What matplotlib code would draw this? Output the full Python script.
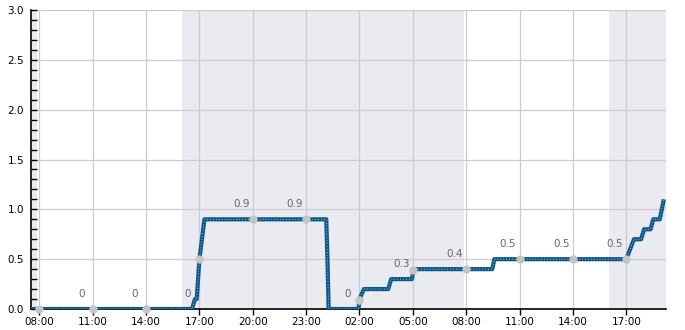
import matplotlib
matplotlib.use("Agg")
import matplotlib.pyplot as plt
import matplotlib.dates as mdates
from matplotlib.ticker import MultipleLocator
import pandas as pd

# ---- data ----
line_times = [
    "2024-01-01 07:30", "2024-01-01 16:35", "2024-01-01 16:45", "2024-01-01 16:51",
    "2024-01-01 17:00", "2024-01-01 17:17", "2024-01-02 00:08", "2024-01-02 00:12",
    "2024-01-02 00:16", "2024-01-02 01:57", "2024-01-02 02:00", "2024-01-02 02:15",
    "2024-01-02 03:37", "2024-01-02 03:47", "2024-01-02 04:57", "2024-01-02 05:03",
    "2024-01-02 09:28", "2024-01-02 09:35", "2024-01-02 17:00", "2024-01-02 17:26",
    "2024-01-02 17:50", "2024-01-02 18:00", "2024-01-02 18:22", "2024-01-02 18:31",
    "2024-01-02 18:53", "2024-01-02 19:07",
]
line_values = [
    0.0, 0.0, 0.1, 0.1,
    0.5, 0.9, 0.9, 0.5,
    0.0, 0.0, 0.1, 0.2,
    0.2, 0.3, 0.3, 0.4,
    0.4, 0.5, 0.5, 0.7,
    0.7, 0.8, 0.8, 0.9,
    0.9, 1.1,
]

marker_times = [
    "2024-01-01 08:00", "2024-01-01 11:00", "2024-01-01 14:00", "2024-01-01 17:00",
    "2024-01-01 20:00", "2024-01-01 23:00", "2024-01-02 02:00", "2024-01-02 05:00",
    "2024-01-02 08:00", "2024-01-02 11:00", "2024-01-02 14:00", "2024-01-02 17:00",
]
marker_values = [0.0, 0.0, 0.0, 0.5, 0.9, 0.9, 0.09, 0.39, 0.4, 0.5, 0.5, 0.5]

label_times = marker_times[1:]
label_values = [0.0, 0.0, 0.0, 0.9, 0.9, 0.0, 0.3, 0.4, 0.5, 0.5, 0.5]
label_texts = ["0", "0", "0", "0.9", "0.9", "0", "0.3", "0.4", "0.5", "0.5", "0.5"]

night_starts = ["2023-12-31 16:00", "2024-01-01 16:00", "2024-01-02 16:03"]
night_ends = ["2024-01-01 07:53", "2024-01-02 07:53", "2024-01-02 20:00"]

x_start, x_end = "2024-01-01 07:32", "2024-01-02 19:13"

# ---- plot ----
fig = plt.figure(figsize=(6.85, 3.30), dpi=100)
ax = fig.add_axes([0.0453, 0.0636, 0.9265, 0.9061])

for s, e in zip(night_starts, night_ends):
    ax.axvspan(pd.Timestamp(s), pd.Timestamp(e), color="#eaeaf1", lw=0, zorder=0)

ax.grid(True, which="major", color="#cccccc", lw=0.9, zorder=1)
ax.set_axisbelow(True)

lt = pd.to_datetime(line_times)
ax.plot(lt, line_values, color="#0b5689", lw=3.0, solid_capstyle="butt", zorder=3)
ax.plot(lt, line_values, color="#e8eef4", lw=0.6, ls=(0, (1, 2.5)), zorder=4)

mt = pd.to_datetime(marker_times)
ax.plot(mt, marker_values, ls="none", marker="o", ms=5, color="#c4c4c4", zorder=5,
        clip_on=False)

for t, v, s in zip(pd.to_datetime(label_times), label_values, label_texts):
    ax.annotate(s, xy=(t, v), xytext=(-11.5, 15), textcoords="offset pixels",
                ha="center", va="center", fontsize=7.5, color="#666666")

ax.set_xlim(pd.Timestamp(x_start), pd.Timestamp(x_end))
ax.set_ylim(0, 3)
ax.xaxis.set_major_locator(mdates.HourLocator(byhour=[2, 5, 8, 11, 14, 17, 20, 23]))
ax.xaxis.set_major_formatter(mdates.DateFormatter("%H:%M"))
ax.yaxis.set_major_locator(MultipleLocator(0.5))
ax.yaxis.set_minor_locator(MultipleLocator(0.1))
ax.yaxis.set_major_formatter(matplotlib.ticker.FormatStrFormatter("%.1f"))

ax.tick_params(axis="y", which="both", direction="in", length=4, width=1, labelsize=7.5, pad=5)
ax.tick_params(axis="x", which="major", direction="out", length=4, width=1, labelsize=7.5, pad=1.5)

for sp in ["top", "right"]:
    ax.spines[sp].set_visible(False)
for sp in ["left", "bottom"]:
    ax.spines[sp].set_color("black")
    ax.spines[sp].set_linewidth(1.2)

fig.savefig("out.png", dpi=100)
